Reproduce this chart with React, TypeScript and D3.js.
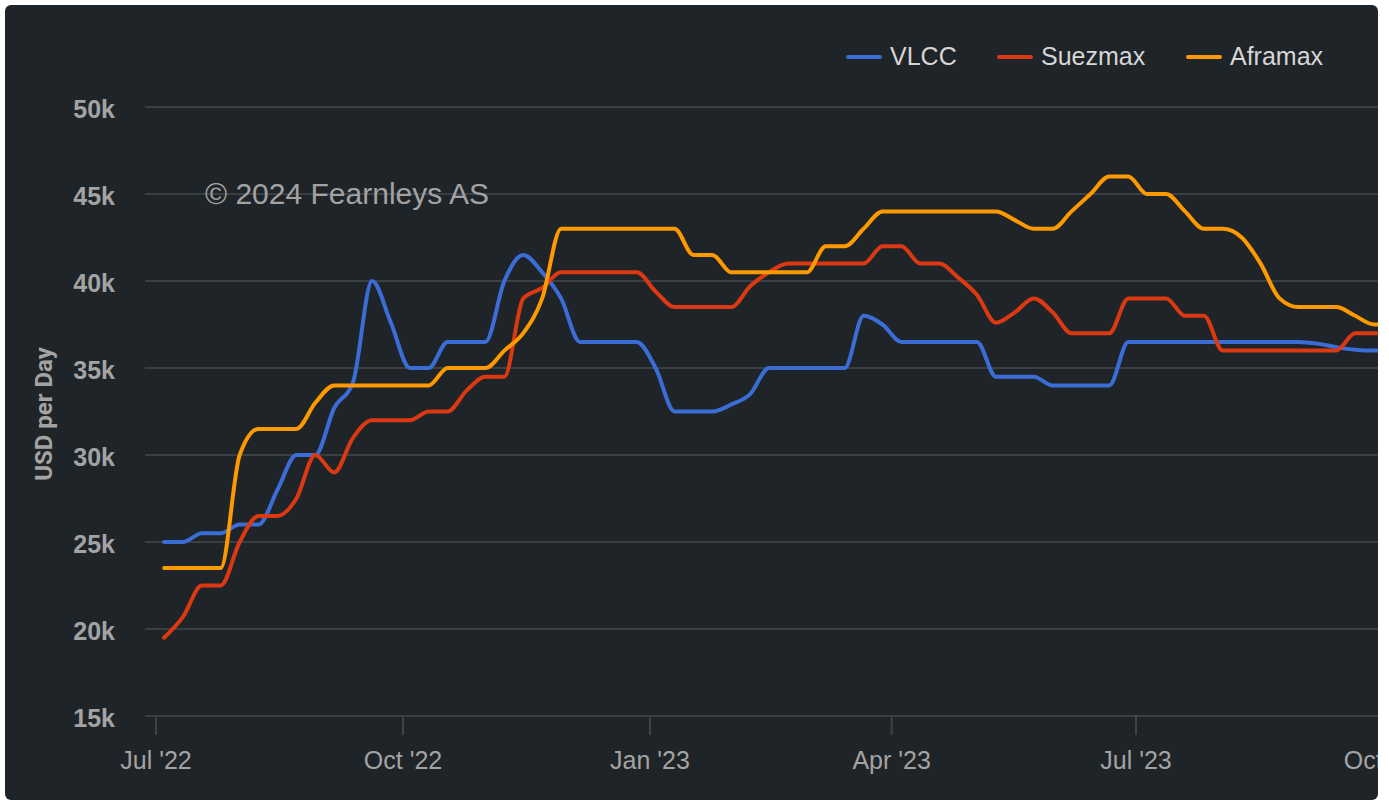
import React from "react"
import * as d3 from "d3"

// weekly rates, USD per day, first week starting 4 Jul 2022
const startDate = new Date(2022, 6, 4)
const stepHours = 169

const vlcc = [
  25000, 25000, 25500, 25500, 26000, 26000, 28000, 30000, 30000, 32700,
  34200, 40000, 37600, 35000, 35000, 36500, 36500, 36500, 40000, 41500,
  40500, 39000, 36500, 36500, 36500, 36500, 35000, 32500, 32500, 32500,
  32900, 33500, 35000, 35000, 35000, 35000, 35000, 38000, 37500, 36500,
  36500, 36500, 36500, 36500, 34500, 34500, 34500, 34000, 34000, 34000,
  34000, 36500, 36500, 36500, 36500, 36500, 36500, 36500, 36500, 36500,
  36500, 36400, 36200, 36050, 36000, 36100,
]

const suezmax = [
  19500, 20700, 22500, 22500, 25000, 26500, 26500, 27500, 30000, 29000,
  31000, 32000, 32000, 32000, 32500, 32500, 33700, 34500, 34500, 39000,
  39600, 40500, 40500, 40500, 40500, 40500, 39400, 38500, 38500, 38500,
  38500, 39700, 40500, 41000, 41000, 41000, 41000, 41000, 42000, 42000,
  41000, 41000, 40200, 39200, 37600, 38200, 39000, 38200, 37000, 37000,
  37000, 39000, 39000, 39000, 38000, 38000, 36000, 36000, 36000, 36000,
  36000, 36000, 36000, 37000, 37000, 37000,
]

const aframax = [
  23500, 23500, 23500, 23500, 30000, 31500, 31500, 31500, 33000, 34000,
  34000, 34000, 34000, 34000, 34000, 35000, 35000, 35000, 36000, 37000,
  39000, 43000, 43000, 43000, 43000, 43000, 43000, 43000, 41500, 41500,
  40500, 40500, 40500, 40500, 40500, 42000, 42000, 43000, 44000, 44000,
  44000, 44000, 44000, 44000, 44000, 43500, 43000, 43000, 44000, 45000,
  46000, 46000, 45000, 45000, 44000, 43000, 43000, 42500, 41000, 39000,
  38500, 38500, 38500, 38000, 37500, 37500,
]

const seriesNames = ["VLCC", "Suezmax", "Aframax"]
const seriesColors = ["#3b6dd6", "#dc3912", "#ff9900"]
const yTicks = [15000, 20000, 25000, 30000, 35000, 40000, 45000, 50000]
const xTicks = [
  new Date(2022, 6, 1),
  new Date(2022, 9, 1),
  new Date(2023, 0, 1),
  new Date(2023, 3, 1),
  new Date(2023, 6, 1),
  new Date(2023, 9, 1),
]

const W = 1389
const H = 800
const panelRight = 1378

export default function App() {
  const dates = vlcc.map((_, i) => d3.timeHour.offset(startDate, i * stepHours))

  const x = d3
    .scaleTime()
    .domain([new Date(2022, 6, 1), new Date(2023, 9, 1)])
    .range([156, 1383])
  const y = d3.scaleLinear().domain([15000, 50000]).range([716, 107])

  const line = d3
    .line<number>()
    .x((_, i) => x(dates[i]))
    .y((d) => y(d))
    .curve(d3.curveMonotoneX)

  const fmtX = d3.timeFormat("%b '%y")
  const data = [vlcc, suezmax, aframax]
  const legendX = [848, 999, 1188]

  return (
    <>
      <style>{`body{margin:0;background:#fff}`}</style>
      <svg width={W} height={H} style={{ display: "block" }}>
        <defs>
          <clipPath id="panel">
            <rect x={5} y={5} width={panelRight - 5} height={H - 5} rx={6} />
          </clipPath>
        </defs>
        <g clipPath="url(#panel)">
          <rect x={5} y={5} width={panelRight - 5} height={H} fill="#1f2428" />

          {/* grid */}
          {yTicks.map((t) => (
            <line key={t} x1={145} x2={panelRight} y1={y(t)} y2={y(t)} stroke="#3a3f43" strokeWidth={2} />
          ))}
          {yTicks.map((t) => (
            <text
              key={"l" + t}
              x={115}
              y={y(t) + 11}
              textAnchor="end"
              fill="#a3a3a3"
              fontFamily="'Liberation Sans', Arial, sans-serif"
              fontWeight="bold"
              fontSize={25}
            >
              {t / 1000}k
            </text>
          ))}
          <text
            transform="translate(52,414) rotate(-90)"
            textAnchor="middle"
            fill="#a3a3a3"
            fontFamily="Roboto, sans-serif"
            fontWeight="bold"
            fontSize={24}
          >
            USD per Day
          </text>

          {/* x axis */}
          {xTicks.map((t) => (
            <g key={+t}>
              <line x1={x(t)} x2={x(t)} y1={716} y2={735} stroke="#3e4347" strokeWidth={2} />
              <text
                x={x(t)}
                y={769}
                textAnchor="middle"
                fill="#a3a3a3"
                fontFamily="'Liberation Sans', Arial, sans-serif"
                fontSize={25}
              >
                {fmtX(t)}
              </text>
            </g>
          ))}

          <text
            x={205}
            y={204}
            fill="#a3a3a3"
            fontFamily="'Liberation Sans', Arial, sans-serif"
            fontSize={30}
          >
            © 2024 Fearnleys AS
          </text>

          {/* series */}
          {data.map((s, k) => (
            <path
              key={seriesNames[k]}
              d={line(s) || ""}
              fill="none"
              stroke={seriesColors[k]}
              strokeWidth={4}
              strokeLinejoin="round"
              strokeLinecap="round"
            />
          ))}

          {/* legend */}
          {seriesNames.map((name, k) => (
            <g key={"lg" + name}>
              <line
                x1={legendX[k]}
                x2={legendX[k] + 32}
                y1={57}
                y2={57}
                stroke={seriesColors[k]}
                strokeWidth={4}
                strokeLinecap="round"
              />
              <text
                x={legendX[k] + 42}
                y={65}
                fill="#d6d6d6"
                fontFamily="'Liberation Sans', Arial, sans-serif"
                fontSize={25}
              >
                {name}
              </text>
            </g>
          ))}
        </g>
      </svg>
    </>
  )
}
